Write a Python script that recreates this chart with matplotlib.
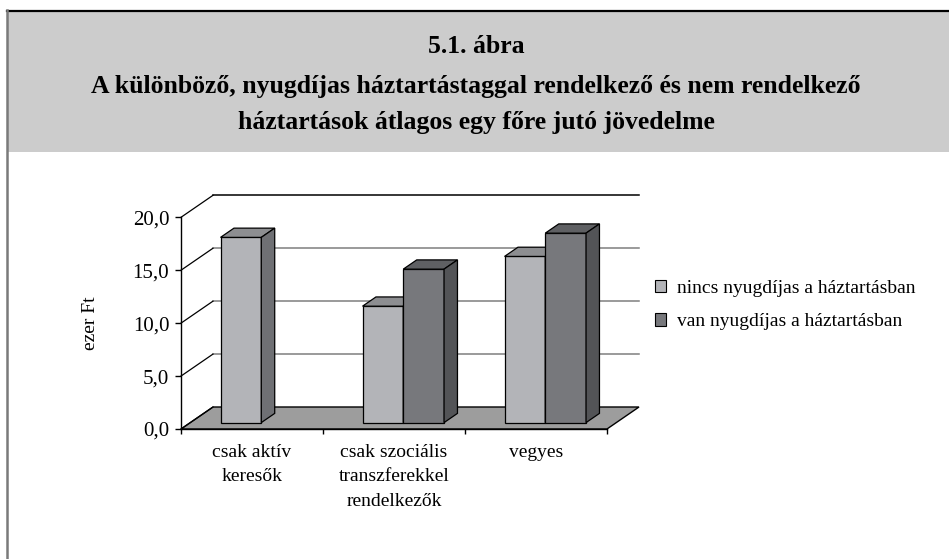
import numpy as np
import matplotlib
matplotlib.use("Agg")
import matplotlib.pyplot as plt
from matplotlib.patches import Polygon, Rectangle, Patch
from matplotlib.lines import Line2D

# ---------------- data ----------------
categories = ["csak aktív\nkeresők", "csak szociális\ntranszferekkel\nrendelkezők", "vegyes"]
series_names = ["nincs nyugdíjas a háztartásban", "van nyugdíjas a háztartásban"]
nincs_values = [17.5, 11.0, 15.7]
van_values = [np.nan, 14.5, 17.9]
y_ticks = [0, 5, 10, 15, 20]
y_ticklabels = ["0,0", "5,0", "10,0", "15,0", "20,0"]
title_lines = ["5.1. ábra",
               "A különböző, nyugdíjas háztartástaggal rendelkező és nem rendelkező",
               "háztartások átlagos egy főre jutó jövedelme"]
y_label = "ezer Ft"

# ---------------- style ----------------
W, H = 949, 559
FONT = "Liberation Serif"
face_cols = [("#b3b4b8", "#8d8e91", "#6f7074"),   # front, top, side
             ("#77787c", "#5f6063", "#535457")]
floor_col = "#9d9d9d"

fig = plt.figure(figsize=(W / 100, H / 100), dpi=100)
fig.patch.set_facecolor("white")

def fx(x):
    return x / W

def fy(y):
    return 1 - y / H

# header band and frame
fig.patches.append(Rectangle((fx(7), fy(152)), fx(949) - fx(7), fy(10) - fy(152),
                             transform=fig.transFigure, facecolor="#cccccc",
                             edgecolor="none", zorder=0))
fig.lines.append(Line2D([fx(7), fx(949)], [fy(10.5), fy(10.5)], transform=fig.transFigure,
                        color="black", lw=1.6))
fig.lines.append(Line2D([fx(7), fx(7)], [fy(10), fy(559)], transform=fig.transFigure,
                        color="#7a7a7a", lw=1.8))

title_y = [53, 93, 129]
for t, yy in zip(title_lines, title_y):
    fig.text(fx(476), fy(yy), t, ha="center", va="baseline", family=FONT,
             fontweight="bold", fontsize=18.5, color="black")

# ---------------- axes ----------------
ax = fig.add_axes([fx(181), fy(429), fx(607) - fx(181), fy(217.3) - fy(429)])
ax.set_xlim(0, 3)
ax.set_ylim(0, 20)
ax.set_facecolor("none")
for s in ["top", "right"]:
    ax.spines[s].set_visible(False)
ax.spines["left"].set_linewidth(1.0)
ax.spines["bottom"].set_linewidth(1.0)

ncat = len(categories)
dx = 32 / 142.0     # depth offset in category units
dy = 22 / 10.585    # depth offset in value units
f_front = 0.29      # depth position of bar front
f_depth = 0.42      # bar depth
bar_w = 0.287

# floor
ax.add_patch(Polygon([(0, 0), (ncat, 0), (ncat + dx, dy), (dx, dy)], closed=True,
                     facecolor=floor_col, edgecolor="black", lw=1.0, zorder=1,
                     clip_on=False))
# walls: gridlines on back wall and diagonals on side wall
for v in y_ticks:
    ax.plot([0, dx], [v, v + dy], color="black", lw=0.9, zorder=1, clip_on=False)
    if v > 0:
        ax.plot([dx, ncat + dx], [v + dy, v + dy],
                color="black" if v == y_ticks[-1] else "#7f7f7f",
                lw=1.1, zorder=0.5, clip_on=False)

# bars
all_vals = [nincs_values, van_values]
nser = len(all_vals)
for i in range(ncat):
    for s in range(nser):
        v = all_vals[s][i]
        if v is None or np.isnan(v):
            continue
        front, top, side = face_cols[s]
        x0 = i + 0.5 - bar_w * nser / 2 + s * bar_w + f_front * dx
        y0 = f_front * dy
        ddx, ddy = f_depth * dx, f_depth * dy
        z = 2 + s
        ax.bar(x0, v, width=bar_w, bottom=y0, align="edge", color=front,
               edgecolor="black", lw=0.9, zorder=z, clip_on=False)
        ax.add_patch(Polygon([(x0, y0 + v), (x0 + bar_w, y0 + v),
                              (x0 + bar_w + ddx, y0 + v + ddy), (x0 + ddx, y0 + v + ddy)],
                             closed=True, facecolor=top, edgecolor="black", lw=0.9,
                             zorder=z, clip_on=False))
        ax.add_patch(Polygon([(x0 + bar_w, y0), (x0 + bar_w + ddx, y0 + ddy),
                              (x0 + bar_w + ddx, y0 + v + ddy), (x0 + bar_w, y0 + v)],
                             closed=True, facecolor=side, edgecolor="black", lw=0.9,
                             zorder=z, clip_on=False))

# ticks
ax.set_yticks(y_ticks)
ax.set_yticklabels(y_ticklabels, family=FONT, fontsize=15)
ax.tick_params(axis="y", direction="out", length=4.5, width=1.0, pad=4)
ax.set_xticks(np.arange(ncat + 1))
ax.set_xticklabels([])
ax.tick_params(axis="x", which="major", direction="out", length=3.5, width=1.0)
ax.set_xticks(np.arange(ncat) + 0.5, minor=True)
ax.set_xticklabels(categories, minor=True, family=FONT, fontsize=14,
                   linespacing=1.55)
ax.tick_params(axis="x", which="minor", length=0, pad=11)
ax.set_ylabel(y_label, family=FONT, fontsize=14, labelpad=24)

# legend
handles = [Patch(facecolor=face_cols[k][0], edgecolor="black", lw=0.8) for k in range(nser)]
leg = fig.legend(handles, series_names, loc="center left",
                 bbox_to_anchor=(fx(647), fy(305)), frameon=False,
                 prop={"family": FONT, "size": 14}, handlelength=0.6,
                 handleheight=0.6, handletextpad=0.55, labelspacing=0.85,
                 borderaxespad=0)

fig.savefig("out.png", dpi=100, facecolor="white")
